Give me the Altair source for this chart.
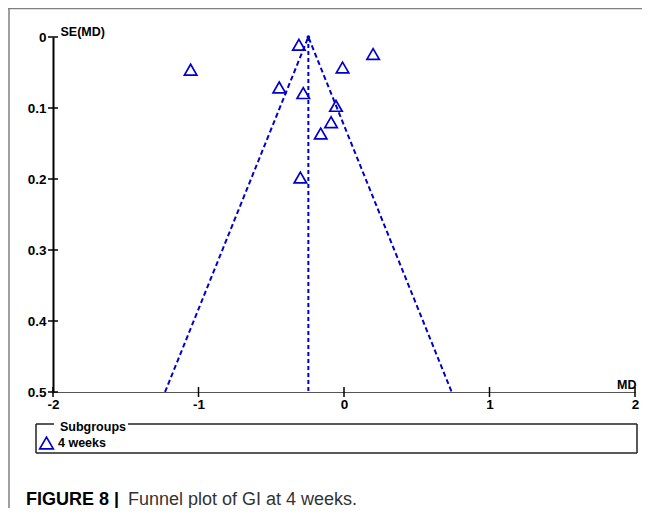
import altair as alt
import pandas as pd

# ---- data ----
md = [-1.054, -0.31, 0.20, -0.01, -0.445, -0.28, -0.055, -0.089, -0.16, -0.30]
se = [0.046, 0.011, 0.024, 0.043, 0.071, 0.079, 0.097, 0.12, 0.136, 0.198]
pooled_md = -0.245
funnel_left_md = -1.23
funnel_right_md = 0.74
se_max = 0.5
x_ticks = [-2, -1, 0, 1, 2]
y_ticks = [0, 0.1, 0.2, 0.3, 0.4, 0.5]
x_title = "MD"
y_title = "SE(MD)"
legend_title = ["Subgroups"]
legend_label = ["4 weeks"]
caption_bold = ["FIGURE 8 |"]
caption_rest = ["Funnel plot of GI at 4 weeks."]

BLUE = "#0000cc"
FONT = "Liberation Sans"

pts = pd.DataFrame({"md": md, "se": se})
funnel = pd.DataFrame({"md": [funnel_left_md, pooled_md, funnel_right_md],
                       "se": [se_max, 0, se_max], "o": [0, 1, 2]})
vline = pd.DataFrame({"md": [pooled_md, pooled_md], "se": [0, se_max], "o": [0, 1]})
apex = pd.DataFrame({"md": [pooled_md], "se": [0]})
xt = pd.DataFrame({"md": x_ticks})
yt = pd.DataFrame({"se": y_ticks})
one = pd.DataFrame({"k": [0]})

xs = alt.Scale(domain=[-2, 2], nice=False, zero=False)
ys = alt.Scale(domain=[0, 0.5], reverse=True, nice=False, zero=False)

xaxis = alt.Axis(
    values=x_ticks, labelExpr="toString(datum.value)", ticks=False, grid=False,
    domainColor="#555555", domainWidth=1.2, labelFont=FONT, labelFontSize=13.5,
    labelFontWeight="bold", labelColor="black", labelPadding=5, labelFlush=False,
    labelOverlap=False, title=x_title, titleFont=FONT, titleFontSize=12.5,
    titleFontWeight="bold", titleColor="black", titleAngle=0, titleX=583,
    titleY=-8, titleAlign="right", titleBaseline="middle")
yaxis = alt.Axis(
    values=y_ticks, labelExpr="toString(datum.value)", ticks=False, grid=False,
    domainColor="black", domainWidth=2, labelFont=FONT, labelFontSize=13.5,
    labelFontWeight="bold", labelColor="black", labelPadding=7,
    labelOverlap=False, title=y_title, titleFont=FONT, titleFontSize=12.5,
    titleFontWeight="bold", titleColor="black", titleAngle=0, titleX=7,
    titleY=-6, titleAlign="left", titleBaseline="middle")

X = alt.X("md:Q", scale=xs, axis=xaxis)
Y = alt.Y("se:Q", scale=ys, axis=yaxis)

points = alt.Chart(pts).mark_point(
    shape="triangle-up", filled=False, size=155, strokeWidth=1.7, color=BLUE, opacity=1
).encode(x=X, y=Y)

funnel_line = alt.Chart(funnel).mark_line(
    color=BLUE, strokeWidth=2, strokeDash=[5, 3]
).encode(x=X, y=Y, order="o:Q")

v_line = alt.Chart(vline).mark_line(
    color=BLUE, strokeWidth=2, strokeDash=[4, 3]
).encode(x=X, y=Y, order="o:Q")

apex_dot = alt.Chart(apex).mark_point(
    shape="circle", filled=True, size=14, color=BLUE, opacity=1
).encode(x=X, y=Y)

x_tick_marks = alt.Chart(xt).mark_rule(color="black", strokeWidth=1.5).encode(
    x=X, y=alt.value(350), y2=alt.value(360))
y_tick_marks = alt.Chart(yt).mark_rule(color="black", strokeWidth=1.5).encode(
    y=Y, x=alt.value(-5), x2=alt.value(5))

# ---- figure frame (page border lines) ----
frame_top = alt.Chart(one).mark_rule(color="#808080", strokeWidth=1.5).encode(
    x=alt.value(-45), x2=alt.value(600), y=alt.value(-28.5))
frame_left = alt.Chart(one).mark_rule(color="#808080", strokeWidth=1.5).encode(
    x=alt.value(-44), y=alt.value(-29), y2=alt.value(480))

# ---- legend box ----
BOX = "#222222"
box_l = alt.Chart(one).mark_rule(color=BOX, strokeWidth=1.5).encode(
    x=alt.value(-17), y=alt.value(387), y2=alt.value(416))
box_r = alt.Chart(one).mark_rule(color=BOX, strokeWidth=1.5).encode(
    x=alt.value(584), y=alt.value(387), y2=alt.value(416))
box_b = alt.Chart(one).mark_rule(color=BOX, strokeWidth=1.5).encode(
    x=alt.value(-17), x2=alt.value(584), y=alt.value(416))
box_t1 = alt.Chart(one).mark_rule(color=BOX, strokeWidth=1.5).encode(
    x=alt.value(-17), x2=alt.value(1), y=alt.value(387))
box_t2 = alt.Chart(one).mark_rule(color=BOX, strokeWidth=1.5).encode(
    x=alt.value(75), x2=alt.value(584), y=alt.value(387))

leg_title = alt.Chart(pd.DataFrame({"t": legend_title})).mark_text(
    font=FONT, fontSize=12.5, fontWeight="bold", color="black", align="left", baseline="middle"
).encode(x=alt.value(7), y=alt.value(390), text="t:N")
leg_sym = alt.Chart(one).mark_point(
    shape="triangle-up", filled=False, size=185, strokeWidth=1.7, color=BLUE, opacity=1
).encode(x=alt.value(-6.5), y=alt.value(406))
leg_label = alt.Chart(pd.DataFrame({"t": legend_label})).mark_text(
    font=FONT, fontSize=12.5, fontWeight="bold", color="black", align="left", baseline="middle"
).encode(x=alt.value(5), y=alt.value(406), text="t:N")

# ---- caption ----
cap1 = alt.Chart(pd.DataFrame({"t": caption_bold})).mark_text(
    font=FONT, fontSize=18, fontWeight="bold", color="black", align="left", baseline="alphabetic"
).encode(x=alt.value(-27), y=alt.value(468), text="t:N")
cap2 = alt.Chart(pd.DataFrame({"t": caption_rest})).mark_text(
    font=FONT, fontSize=18, fontWeight="normal", color="#333333", align="left", baseline="alphabetic"
).encode(x=alt.value(75), y=alt.value(468), text="t:N")

chart = alt.layer(
    points,
    funnel_line, v_line, apex_dot,
    x_tick_marks, y_tick_marks,
    frame_top, frame_left,
    box_l, box_r, box_b, box_t1, box_t2, leg_title, leg_sym, leg_label,
    cap1, cap2,
).properties(
    width=582, height=355,
    padding={"left": 45, "top": 29, "right": 7, "bottom": 116},
    autosize=alt.AutoSizeParams(type="none"),
    background="white",
).configure_view(stroke=None)

chart.save("out.html", embed_options={"renderer": "svg", "actions": False})
